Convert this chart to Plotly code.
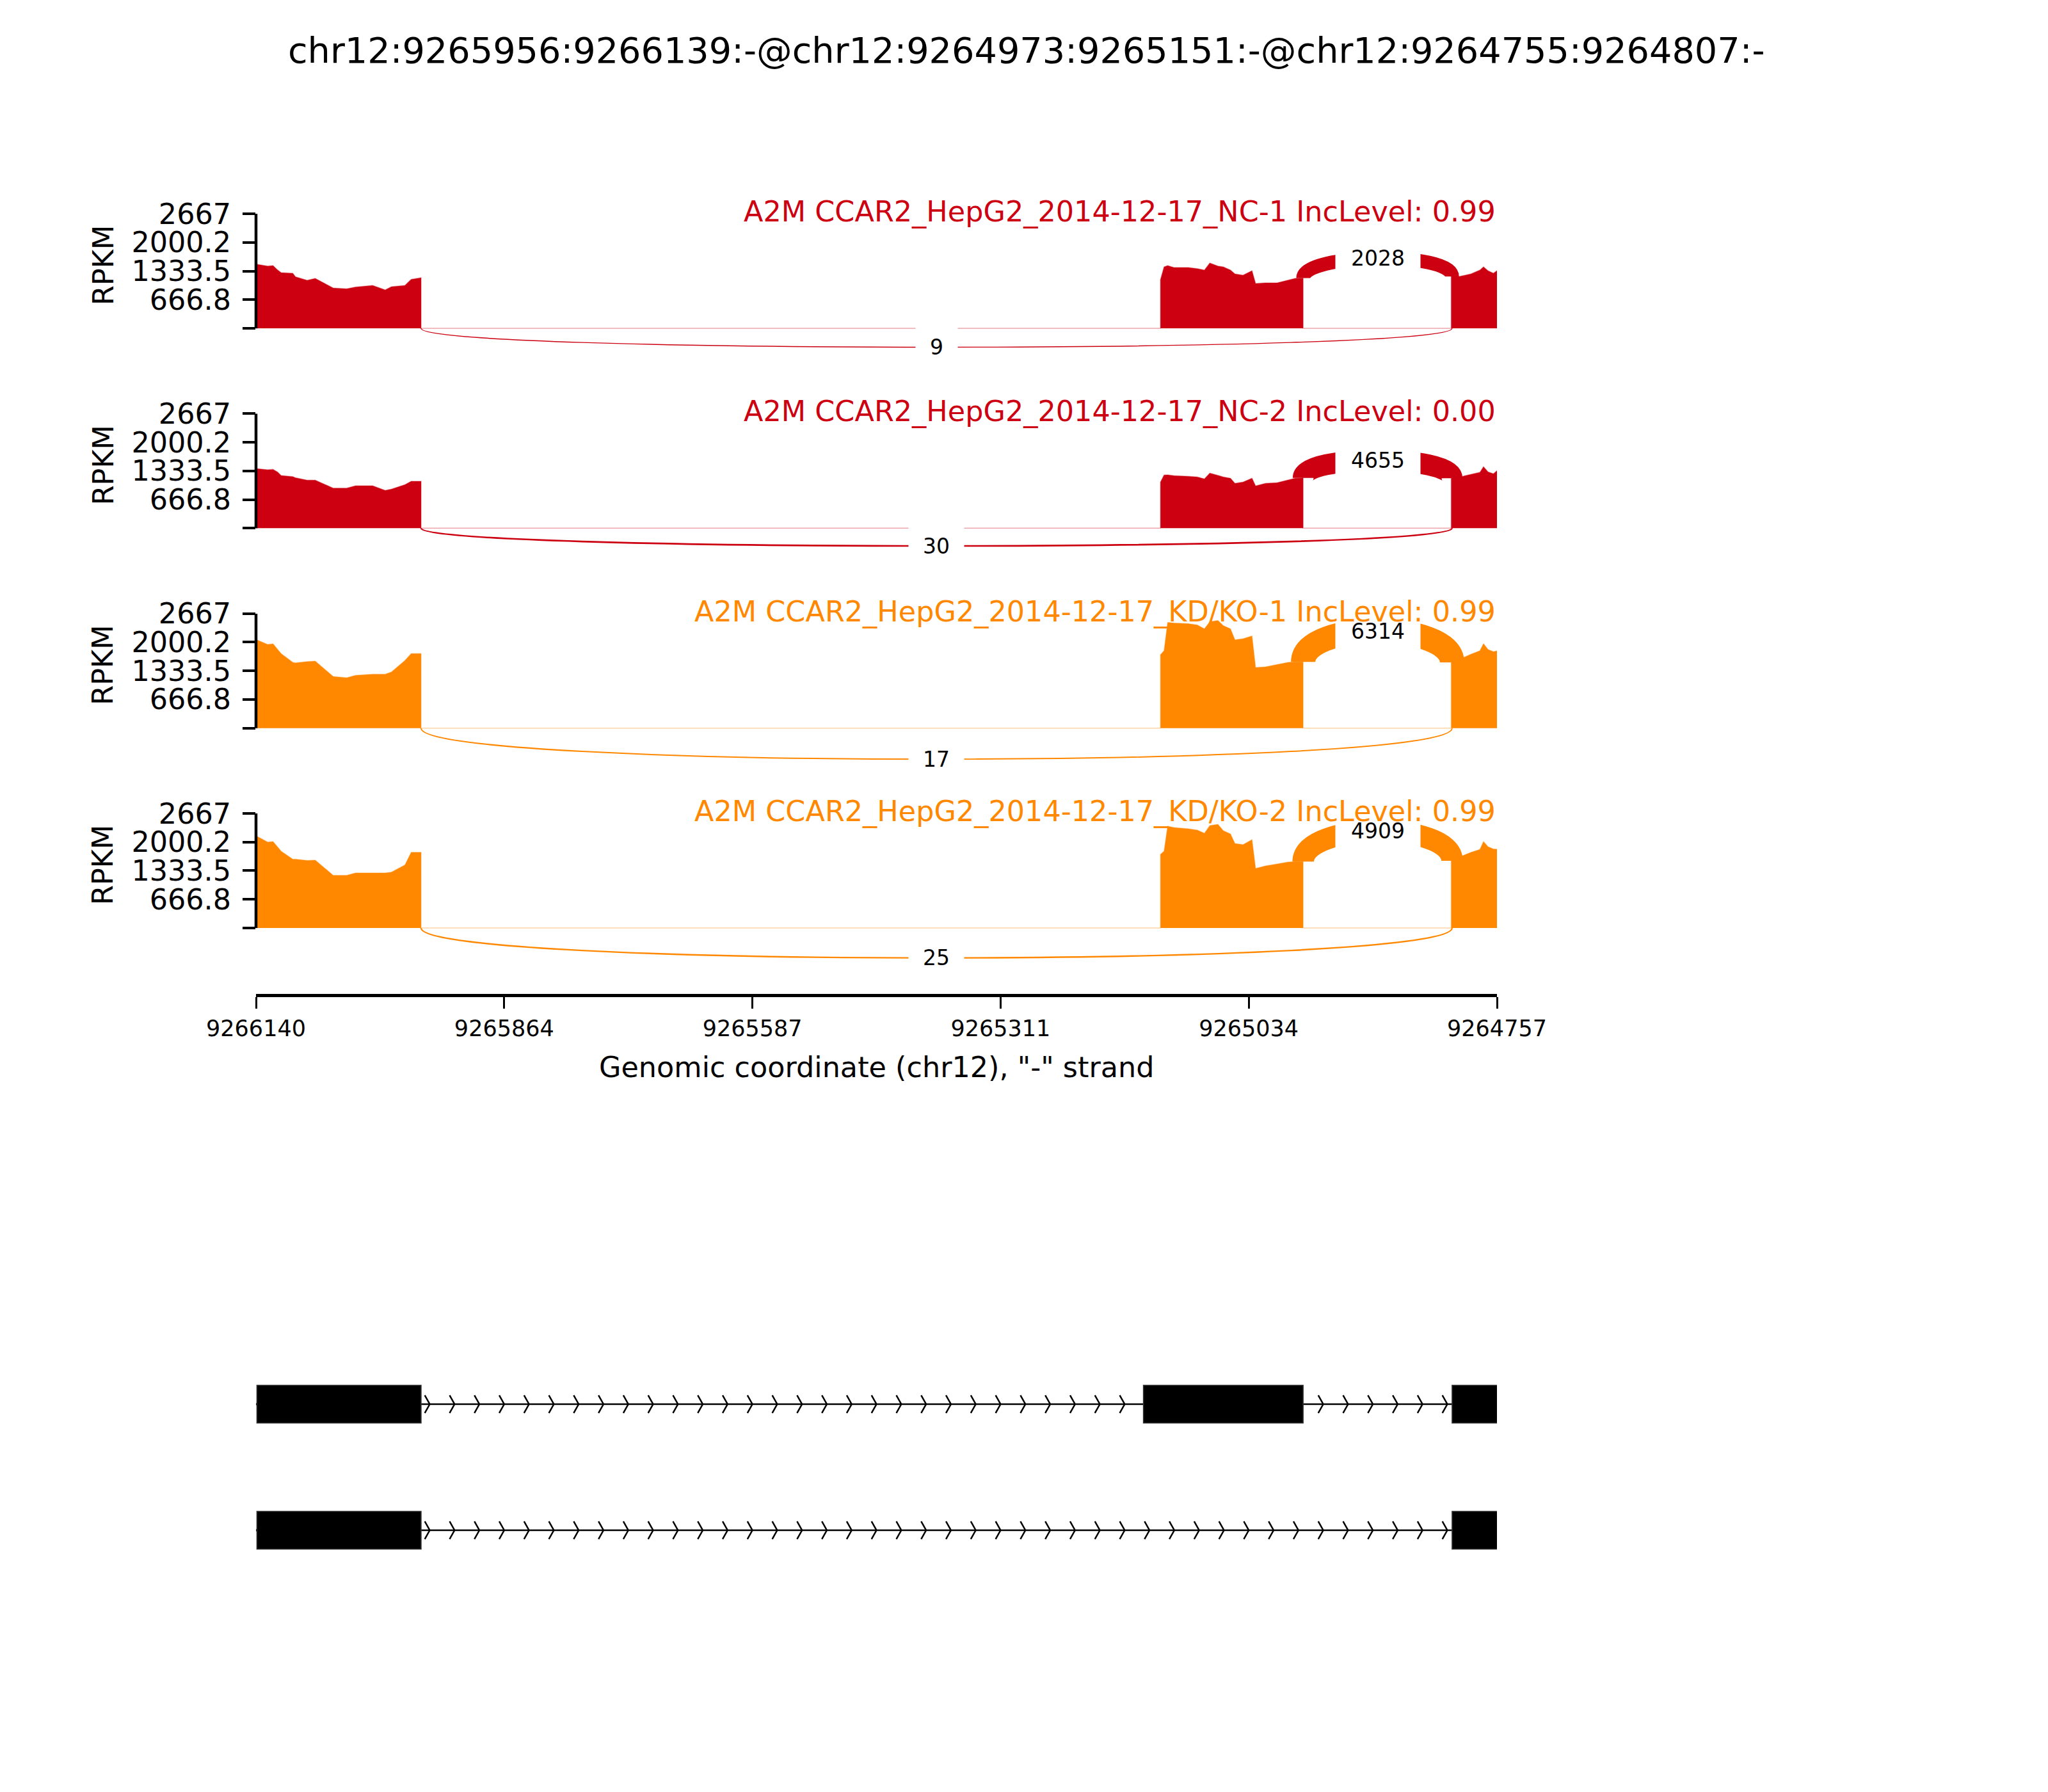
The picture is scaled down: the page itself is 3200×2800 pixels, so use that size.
import numpy as np
import plotly.graph_objects as go

# ---------------- data ----------------
TITLE = "chr12:9265956:9266139:-@chr12:9264973:9265151:-@chr12:9264755:9264807:-"
sample_labels = [
    "A2M CCAR2_HepG2_2014-12-17_NC-1 IncLevel: 0.99",
    "A2M CCAR2_HepG2_2014-12-17_NC-2 IncLevel: 0.00",
    "A2M CCAR2_HepG2_2014-12-17_KD/KO-1 IncLevel: 0.99",
    "A2M CCAR2_HepG2_2014-12-17_KD/KO-2 IncLevel: 0.99",
]
sample_colors = ["#CC0011", "#CC0011", "#FF8800", "#FF8800"]

x_range = [9266140, 9264757]
x_tick_labels = ["9266140", "9265864", "9265587", "9265311", "9265034", "9264757"]
y_max = 2667
y_tick_values = [0, 666.8, 1333.5, 2000.2, 2667]
y_tick_labels = ["", "666.8", "1333.5", "2000.2", "2667"]

# read-coverage sample positions (genomic) per exon
exon1_pos = [9266139, 9266127, 9266121, 9266116, 9266112, 9266099, 9266096, 9266083, 9266074,
             9266054, 9266039, 9266029, 9266010, 9265996, 9265989, 9265974, 9265967, 9265956]
exon2_pos = [9265132, 9265128, 9265124, 9265117, 9265101, 9265091, 9265083, 9265077, 9265068, 9265062,
             9265054, 9265049, 9265040, 9265030, 9265026, 9265015, 9265002, 9264990, 9264982, 9264973]
exon3_pos = [9264808, 9264799, 9264786, 9264776, 9264772, 9264767, 9264761, 9264756]

# RPKM values
nc1_e1 = [1490, 1450, 1460, 1360, 1296, 1282, 1200, 1118, 1162, 939, 920, 960, 998, 894, 969, 1000, 1140, 1177]
nc2_e1 = [1387, 1360, 1370, 1307, 1227, 1200, 1173, 1120, 1120, 933, 933, 987, 987, 880, 910, 1013, 1093, 1093]
kd1_e1 = [2053, 1947, 1960, 1840, 1733, 1530, 1520, 1547, 1560, 1200, 1173, 1227, 1253, 1253, 1307, 1573, 1733, 1733]
kd2_e1 = [2133, 2000, 2010, 1893, 1787, 1600, 1600, 1573, 1580, 1227, 1227, 1280, 1280, 1280, 1300, 1467, 1760, 1760]

nc1_e2 = [1133, 1430, 1460, 1415, 1415, 1390, 1356, 1520, 1450, 1430, 1356, 1267, 1237, 1341, 1043, 1058, 1058, 1118, 1162, 1170]
nc2_e2 = [1073, 1237, 1240, 1222, 1207, 1192, 1147, 1282, 1230, 1192, 1162, 1043, 1073, 1162, 983, 1043, 1060, 1120, 1162, 1170]
kd1_e2 = [1709, 1800, 2460, 2445, 2430, 2400, 2310, 2475, 2505, 2385, 2310, 2055, 2080, 2145, 1410, 1425, 1485, 1530, 1540, 1540]
kd2_e2 = [1714, 1788, 2370, 2340, 2310, 2280, 2206, 2384, 2414, 2265, 2190, 1967, 1940, 2057, 1386, 1446, 1490, 1535, 1545, 1545]

nc1_e3 = [1207, 1207, 1267, 1356, 1430, 1341, 1282, 1356]
nc2_e3 = [1162, 1190, 1250, 1300, 1431, 1311, 1267, 1356]
kd1_e3 = [1530, 1600, 1720, 1800, 1965, 1830, 1780, 1800]
kd2_e3 = [1565, 1650, 1760, 1830, 2012, 1893, 1840, 1833]

# junctions
inclusion_junction = [9264973, 9264807]   # exon2 -> exon3
skipping_junction = [9265956, 9264807]    # exon1 -> exon3
inclusion_counts = [2028, 4655, 6314, 4909]
skipping_counts = [9, 30, 17, 25]

# transcript models
isoform1_exons = [[9265956, 9266139], [9264973, 9265151], [9264755, 9264807]]
isoform2_exons = [[9265956, 9266139], [9264755, 9264807]]

# ---------------- layout helpers ----------------
OFF = 8                       # page body margin of the html page
W, H = 3200 - 2 * OFF, 2800 - 2 * OFF
FONT = "DejaVu Sans"
X_LEFT_PX, X_RIGHT_PX = 400 - OFF, 2339 - OFF
PANEL_TOP0 = 334 - OFF
PANEL_STEP = 312.33
SPINE_PX = 179.0          # pixel height of 0..y_max
unit_px = SPINE_PX / y_max
y_min = -1535.0


def fy(px):
    return 1 - px / H


coverage = [
    (nc1_e1, nc1_e2, nc1_e3),
    (nc2_e1, nc2_e2, nc2_e3),
    (kd1_e1, kd1_e2, kd1_e3),
    (kd2_e1, kd2_e2, kd2_e3),
]
exon_positions = [exon1_pos, exon2_pos, exon3_pos]

fig = go.Figure()
shapes = []
annotations = []

max_count = max(inclusion_counts + skipping_counts)


def lw_of(count):
    return 38.0 * np.sqrt(count / max_count)


def bez_mid(p):
    return (0.125 * p[0][0] + 0.375 * p[1][0] + 0.375 * p[2][0] + 0.125 * p[3][0],
            0.125 * p[0][1] + 0.375 * p[1][1] + 0.375 * p[2][1] + 0.125 * p[3][1])


def path_of(p):
    return "M {},{} C {},{} {},{} {},{}".format(p[0][0], p[0][1], p[1][0], p[1][1],
                                              p[2][0], p[2][1], p[3][0], p[3][1])


axis_layout = {}
for k in range(4):
    yname = "y" if k == 0 else "y%d" % (k + 1)
    ykey = "yaxis" if k == 0 else "yaxis%d" % (k + 1)
    top = PANEL_TOP0 + k * PANEL_STEP
    bottom = top + (y_max - y_min) * unit_px
    axis_layout[ykey] = dict(
        domain=[fy(bottom), fy(top)], range=[y_min, y_max], anchor="x", automargin=False,
        tickmode="array", tickvals=y_tick_values, ticktext=y_tick_labels,
        ticks="outside", ticklen=20, tickwidth=4, tickcolor="black",
        showline=False, showgrid=False, zeroline=False,
        tickfont=dict(family=FONT, size=44.5, color="black"), ticklabelstandoff=9,
    )
    color = sample_colors[k]
    xs, ys = [x_range[0]], [0]
    for pos, vals in zip(exon_positions, coverage[k]):
        xs += [pos[0]] + list(pos) + [pos[-1]]
        ys += [0] + list(vals) + [0]
    xs.append(x_range[1])
    ys.append(0)
    r, g, b = int(color[1:3], 16), int(color[3:5], 16), int(color[5:7], 16)
    fig.add_trace(go.Scatter(
        x=xs, y=ys, xaxis="x", yaxis=yname, mode="lines", fill="tozeroy",
        fillcolor=color, line=dict(color="rgba(%d,%d,%d,0.35)" % (r, g, b), width=1.5),
        hoverinfo="skip", showlegend=False))

    # spine 0..y_max
    shapes.append(dict(type="line", xref="x domain", yref=yname, x0=0, x1=0, y0=0, y1=y_max,
                       line=dict(color="black", width=4.5), layer="above"))

    all_vals = list(coverage[k][0]) + list(coverage[k][1]) + list(coverage[k][2])
    h = 0.385 * max(all_vals)
    # inclusion junction (above)
    left_d = coverage[k][1][-1]
    right_d = coverage[k][2][0]
    s1, s2 = inclusion_junction
    pts = [(s1, left_d), (s1, left_d + h), (s2, right_d + h), (s2, right_d)]
    shapes.append(dict(type="path", xref="x", yref=yname, path=path_of(pts),
                       line=dict(color=color, width=lw_of(inclusion_counts[k])),
                       fillcolor="rgba(0,0,0,0)", layer="above"))
    mx, my = bez_mid(pts)
    annotations.append(dict(x=mx, y=my, xref="x", yref=yname, text=str(inclusion_counts[k]),
                            showarrow=False, bgcolor="white", borderpad=24,
                            font=dict(family=FONT, size=33, color="black")))
    # skipping junction (below)
    s1, s2 = skipping_junction
    pts = [(s1, 0), (s1, -h), (s2, -h), (s2, 0)]
    shapes.append(dict(type="path", xref="x", yref=yname, path=path_of(pts),
                       line=dict(color=color, width=lw_of(skipping_counts[k])),
                       fillcolor="rgba(0,0,0,0)", layer="above"))
    mx, my = bez_mid(pts)
    annotations.append(dict(x=mx, y=my, xref="x", yref=yname, text=str(skipping_counts[k]),
                            showarrow=False, bgcolor="white", borderpad=22,
                            font=dict(family=FONT, size=33, color="black")))

for k in range(4):
    yname = "y" if k == 0 else "y%d" % (k + 1)
    annotations.append(dict(x=1, y=y_max, xref="x domain", yref=yname, text=sample_labels[k],
                            xanchor="right", yanchor="middle", showarrow=False, yshift=3,
                            font=dict(family=FONT, size=44.5, color=sample_colors[k])))
    annotations.append(dict(x=(161 - OFF) / W, y=y_max - 81 / unit_px, xref="paper", yref=yname,
                            text="RPKM", textangle=-90, showarrow=False,
                            xanchor="center", yanchor="middle",
                            font=dict(family=FONT, size=44.5, color="black")))

# ---------------- gene track ----------------
TRACK0_PX, TRACK_STEP_PX = 2194 - OFF, 197
exon_h = 0.3
gene_top = TRACK0_PX - 0.5 * TRACK_STEP_PX
gene_bottom = gene_top + 2 * TRACK_STEP_PX
axis_layout["yaxis5"] = dict(domain=[fy(gene_bottom), fy(gene_top)], range=[-1.5, 0.5],
                             anchor="x", visible=False, showgrid=False, zeroline=False,
                             automargin=False)

n_arrows = 50
span = x_range[0] - x_range[1]
arrow_locs = [x_range[0] - i * span / n_arrows for i in range(n_arrows)]
spread = 0.2 * span / n_arrows
arm = 0.07
for t, exons in enumerate([isoform1_exons, isoform2_exons]):
    yc = -t
    starts = [e[0] for e in exons]
    ends = [e[1] for e in exons]
    fig.add_trace(go.Scatter(x=[max(starts), min(ends)], y=[yc, yc], xaxis="x", yaxis="y5",
                             mode="lines", line=dict(color="black", width=2.5),
                             hoverinfo="skip", showlegend=False))
    cx, cy = [], []
    for loc in arrow_locs:
        cx += [loc + spread, loc, loc + spread, None]
        cy += [yc + arm, yc, yc - arm, None]
    fig.add_trace(go.Scatter(x=cx, y=cy, xaxis="x", yaxis="y5", mode="lines",
                             line=dict(color="black", width=2.5), hoverinfo="skip", showlegend=False))
    for e in exons:
        shapes.append(dict(type="rect", xref="x", yref="y5", x0=e[1], x1=e[0],
                           y0=yc - exon_h / 2, y1=yc + exon_h / 2,
                           fillcolor="black", line=dict(color="#333333", width=1.5), layer="above"))

# ---------------- titles ----------------
annotations.append(dict(x=(1604 - OFF) / W, y=fy(78 - OFF), xref="paper", yref="paper", text=TITLE,
                        showarrow=False, xanchor="center", yanchor="middle",
                        font=dict(family=FONT, size=55.7, color="black")))
annotations.append(dict(x=((X_LEFT_PX + X_RIGHT_PX) / 2) / W, y=fy(1667 - OFF), xref="paper",
                        yref="paper", text='Genomic coordinate (chr12), "-" strand', showarrow=False,
                        xanchor="center", yanchor="middle",
                        font=dict(family=FONT, size=44.5, color="black")))

x_tick_values = list(np.linspace(x_range[0], x_range[1], len(x_tick_labels)))

fig.update_layout(
    width=W, height=H, autosize=False,
    margin=dict(l=0, r=0, t=0, b=0, pad=0),
    paper_bgcolor="white", plot_bgcolor="white",
    showlegend=False,
    xaxis=dict(domain=[X_LEFT_PX / W, X_RIGHT_PX / W], range=x_range, anchor="y4",
               automargin=False,
               tickmode="array", tickvals=x_tick_values, ticktext=x_tick_labels,
               ticks="outside", ticklen=18, tickwidth=2.5, tickcolor="black",
               showline=True, linewidth=5, linecolor="black",
               showgrid=False, zeroline=False, ticklabelstandoff=1,
               tickfont=dict(family=FONT, size=35, color="black")),
    shapes=shapes,
    annotations=annotations,
    **axis_layout,
)

fig.write_html("out.html")
